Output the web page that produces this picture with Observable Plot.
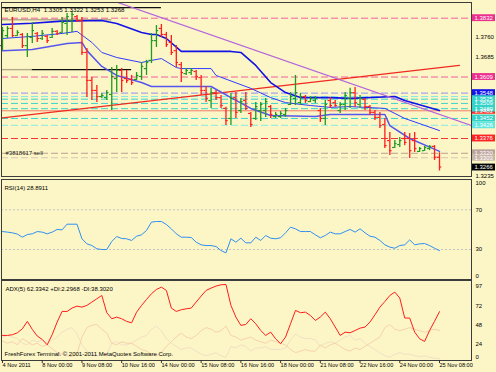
<!DOCTYPE html>
<html><head><meta charset="utf-8">
<script src="https://cdn.jsdelivr.net/npm/d3@7"></script>
<script src="https://cdn.jsdelivr.net/npm/@observablehq/plot@0.6"></script>
<style>
html,body{margin:0;padding:0;background:#fcf6c6;}
#chart{position:relative;width:496px;height:372px;background:#fcf6c6;overflow:hidden;}
#chart svg{position:absolute;left:0;}
</style></head><body><div id="chart"></div>
<script>
// ---------- DATA ----------
const symbol = "EURUSD,H4";
const open = [1.3728,1.3766,1.3793,1.3766,1.3770,1.3728,1.3759,1.3774,1.3755,1.3763,
1.3759,1.3782,1.3778,1.3812,1.3823,1.3838,1.3823,1.3702,1.3596,1.3558,
1.3535,1.3531,1.3543,1.3603,1.3634,1.3603,1.3600,1.3600,1.3611,1.3641,
1.3672,1.3747,1.3793,1.3770,1.3740,1.3709,1.3656,1.3622,1.3626,1.3630,
1.3607,1.3558,1.3520,1.3550,1.3531,1.3490,1.3452,1.3531,1.3482,1.3520,
1.3471,1.3452,1.3482,1.3482,1.3497,1.3459,1.3459,1.3467,1.3505,1.3528,
1.3512,1.3535,1.3516,1.3520,1.3482,1.3452,1.3520,1.3512,1.3482,1.3505,
1.3528,1.3550,1.3505,1.3524,1.3497,1.3475,1.3456,1.3429,1.3368,1.3342,
1.3353,1.3376,1.3376,1.3368,1.3327,1.3330,1.3338,1.3346,1.3305];
const high = [1.3797,1.3800,1.3835,1.3785,1.3774,1.3774,1.3816,1.3778,1.3785,1.3766,
1.3793,1.3785,1.3835,1.3850,1.3857,1.3842,1.3835,1.3717,1.3607,1.3577,
1.3547,1.3558,1.3645,1.3653,1.3641,1.3634,1.3615,1.3626,1.3664,1.3672,
1.3774,1.3804,1.3808,1.3778,1.3766,1.3728,1.3664,1.3641,1.3641,1.3634,
1.3615,1.3573,1.3566,1.3558,1.3539,1.3494,1.3547,1.3550,1.3528,1.3550,
1.3475,1.3512,1.3512,1.3528,1.3501,1.3475,1.3478,1.3490,1.3550,1.3615,
1.3547,1.3539,1.3535,1.3535,1.3490,1.3520,1.3531,1.3520,1.3512,1.3550,
1.3566,1.3569,1.3539,1.3528,1.3501,1.3482,1.3475,1.3452,1.3399,1.3368,
1.3380,1.3399,1.3395,1.3399,1.3342,1.3346,1.3349,1.3349,1.3322];
const low = [1.3709,1.3755,1.3759,1.3763,1.3717,1.3683,1.3736,1.3740,1.3747,1.3736,
1.3755,1.3766,1.3774,1.3766,1.3778,1.3816,1.3691,1.3531,1.3520,1.3512,
1.3528,1.3520,1.3482,1.3550,1.3550,1.3584,1.3577,1.3596,1.3596,1.3615,
1.3660,1.3721,1.3759,1.3721,1.3691,1.3645,1.3588,1.3615,1.3615,1.3596,
1.3539,1.3512,1.3490,1.3520,1.3490,1.3425,1.3425,1.3452,1.3471,1.3482,
1.3418,1.3444,1.3440,1.3456,1.3452,1.3452,1.3452,1.3456,1.3501,1.3501,
1.3501,1.3509,1.3512,1.3509,1.3437,1.3425,1.3490,1.3494,1.3471,1.3482,
1.3490,1.3494,1.3490,1.3482,1.3463,1.3444,1.3414,1.3338,1.3312,1.3338,
1.3342,1.3349,1.3300,1.3323,1.3323,1.3327,1.3330,1.3293,1.3253];
const close = [1.3785,1.3793,1.3766,1.3778,1.3728,1.3763,1.3785,1.3755,1.3774,1.3747,
1.3782,1.3774,1.3816,1.3838,1.3846,1.3823,1.3702,1.3596,1.3558,1.3535,
1.3539,1.3550,1.3611,1.3634,1.3596,1.3596,1.3588,1.3615,1.3649,1.3664,
1.3747,1.3785,1.3770,1.3732,1.3702,1.3664,1.3626,1.3634,1.3634,1.3611,
1.3558,1.3528,1.3550,1.3531,1.3501,1.3444,1.3528,1.3475,1.3516,1.3490,
1.3429,1.3497,1.3505,1.3516,1.3467,1.3467,1.3471,1.3482,1.3535,1.3550,
1.3535,1.3520,1.3528,1.3528,1.3452,1.3505,1.3501,1.3501,1.3505,1.3539,
1.3550,1.3512,1.3528,1.3497,1.3475,1.3456,1.3425,1.3349,1.3330,1.3357,
1.3368,1.3361,1.3330,1.3338,1.3338,1.3342,1.3346,1.3305,1.3268];

// Bollinger-style bands: [bar, price]
const bandUpper = [[0,1.3808],[6,1.3813],[12,1.3821],[20,1.3823],[23,1.3812],[28,1.3778],[30,1.3770],[31,1.3770],[33,1.3755],[36,1.3706],[46,1.3706],[48,1.3702],[51,1.3653],[54,1.3588],[57,1.3550],[60,1.3531],[66,1.3531],[70,1.3528],[79,1.3535],[81,1.3520],[88,1.3482]];
const bandMiddle = [[0,1.3755],[6,1.3763],[12,1.3774],[15,1.3782],[18,1.3740],[20,1.3702],[23,1.3683],[28,1.3664],[30,1.3672],[32,1.3679],[35,1.3645],[36,1.3641],[42,1.3641],[43,1.3615],[50,1.3566],[54,1.3531],[57,1.3512],[62,1.3501],[66,1.3494],[70,1.3497],[77,1.3490],[81,1.3452],[88,1.3406]];
const bandLower = [[0,1.3709],[6,1.3713],[13,1.3736],[16,1.3740],[17,1.3709],[20,1.3649],[23,1.3615],[28,1.3588],[30,1.3573],[42,1.3573],[46,1.3531],[50,1.3490],[54,1.3463],[63,1.3459],[66,1.3467],[77,1.3467],[78,1.3425],[82,1.3376],[88,1.3327]];

// trend lines: [bar, price]
const trendDown = [[12,1.3965],[94.4,1.3425]];
const trendUp = [[0,1.3454],[92,1.3653]];

// horizontal segments
const segStart = [0, 0, 0, 6];
const segEnd   = [32, 22, 6, 26];
const segPrice = [1.3872, 1.3826, 1.3637, 1.3637];
const segKind  = ["black", "khaki", "khaki", "black"];

// horizontal levels
const levelValues = [1.3832, 1.3609, 1.3548, 1.3535, 1.3525, 1.3509, 1.3489, 1.3452, 1.3426, 1.3376, 1.3320, 1.3303];
const levelKinds  = ["pink", "pink", "blue", "cyanLight", "cyan", "cyan", "cyan", "cyan", "cyanLight", "red", "tan", "tanLight"];
const solidLevelValues = [1.3481];

// price axis
const priceTicks = [1.3760, 1.3685, 1.3235];
const tagValues = [1.3832, 1.3609, 1.3548, 1.3481, 1.3525, 1.3509, 1.3489, 1.3452, 1.3426, 1.3376, 1.3320, 1.3303, 1.3266];
const tagKinds  = ["pink", "pink", "blue", "red", "cyan", "cyan", "cyan", "cyan", "cyanLight", "red", "tan", "tanLight", "black"];

// order
const orderTicket = "#3818617";
const orderType = "sell";
const orderPrice = 1.3320;

// RSI(14)
const rsi = [48.1,47.5,46.8,45.5,42.4,45.1,45.8,48.1,47.5,45.8,
47.5,50.2,49.8,55.5,55.5,55.5,40.8,35.7,34.0,30.7,
30.0,30.0,38.1,43.1,41.1,40.8,39.1,43.4,44.8,49.2,
57.6,58.2,58.2,55.2,50.8,45.8,42.4,42.4,42.1,37.4,
34.7,34.0,34.0,33.0,29.0,26.6,40.8,37.4,41.4,36.7,
36.7,42.4,39.1,44.1,41.4,40.8,41.8,46.8,52.5,50.8,
48.1,48.1,48.1,44.8,41.8,44.1,47.5,45.8,45.8,48.1,
50.2,47.5,50.8,46.8,43.4,42.4,39.1,34.7,32.4,31.3,
34.0,34.7,39.7,34.7,35.7,36.0,34.0,31.3,28.8911];
const rsiLevels = [70, 30];
const rsiTicksMid = [70, 30];

// ADX(5), +DI, -DI
const adx = [32.0,32.0,32.9,35.4,40.5,49.9,39.7,31.2,26.9,20.0,
32.9,49.0,62.6,62.6,66.9,69.4,68.1,70.3,74.6,78.8,
83.0,61.0,53.3,55.4,53.3,49.9,48.1,61.7,70.3,77.9,
85.2,90.7,93.6,89.4,66.9,62.6,64.8,66.0,66.9,74.6,
82.2,89.4,92.4,95.0,96.6,97.0,70.3,55.4,44.8,46.0,
53.3,46.9,38.3,32.0,36.2,27.7,21.4,29.9,46.9,63.9,
61.0,61.7,57.5,51.1,55.4,61.7,53.3,42.7,32.0,36.2,
35.4,38.3,41.3,42.7,49.0,58.4,68.1,75.3,83.0,87.3,
79.7,54.2,54.2,36.2,27.7,24.3,38.3,50.0,62.3342];
const minusDI = [25,22,24,20,28,24,20,22,18,20,15,
10,8,6,5,8,
30,42,45,46,40,35,
22,20,24,22,22,18,14,12,
8,6,10,
18,24,30,35,30,28,32,38,42,40,36,38,44,
32,30,26,28,30,26,24,22,26,24,22,20,
14,10,12,14,12,12,20,16,
20,22,18,14,12,16,14,18,22,26,
30,42,46,40,38,40,42,40,38,36,38,40,38.302];
const plusDI = [30,32,30,28,22,20,26,24,26,22,26,
30,36,40,42,34,
20,12,8,6,8,8,
22,24,20,20,22,26,30,32,
40,44,38,
28,22,18,14,16,16,12,8,6,8,10,6,4,
18,16,20,18,12,16,16,18,14,14,14,16,
26,34,30,28,28,26,18,22,
24,22,26,30,32,26,28,22,18,14,
10,6,4,8,10,8,8,6,5,6,4,3,2.2968];
const adxTicks = [97, 72, 48, 24];

// time axis
const timeLabels = ["4 Nov 2011","8 Nov 00:00","9 Nov 08:00","10 Nov 16:00","14 Nov 00:00","15 Nov 08:00","16 Nov 16:00","18 Nov 00:00","21 Nov 08:00","22 Nov 16:00","24 Nov 00:00","25 Nov 08:00"];
const timeBars = [0,8,16,24,32,40,48,56,64,72,80,88];
const footer = "FreshForex Terminal. \u00a9 2001-2011 MetaQuotes Software Corp.";

// ---------- RENDER ----------
const W = 496;
const FONT = "'Liberation Sans', Arial, sans-serif";
const xScale = {type: "linear", domain: [-0.403, 99.477], range: [0, W], axis: null};
const lineColor = {pink:"#f0609c", blue:"#9090f4", cyan:"#3cd4cc", cyanLight:"#84ebe5", red:"#f23434", tan:"#b99f90", tanLight:"#d9c6b2", salmon:"#ef7d6c", black:"#111111", khaki:"#b4a88c"};
const tagColor = {pink:"#ec2f8e", blue:"#1414e8", cyan:"#35d2ca", cyanLight:"#62e6e0", red:"#ff2222", tan:"#bba39b", tanLight:"#c9b5aa", black:"#000000"};
const UP = "#1f9a1f", DOWN = "#ff1c1c";
const frameStroke = "#3c3c3c";
const styleBase = {background: "transparent", fontFamily: FONT, fontSize: "6px", color: "#000"};

const n = open.length;
const bars = d3.range(n).map(i => ({i, o: open[i], h: high[i], l: low[i], c: close[i], up: close[i] >= open[i]}));
const levels = levelValues.map((v, k) => ({v, kind: levelKinds[k]}));
const tags = tagValues.map((v, k) => ({v, kind: tagKinds[k]}));
const segs = segStart.map((s, k) => ({s, e: segEnd[k], p: segPrice[k], kind: segKind[k]}));
const fmt = v => v.toFixed(4);
const header = `${symbol}  ${fmt(open[n-1])} ${fmt(high[n-1])} ${fmt(low[n-1])} ${fmt(close[n-1])}`;

const main = Plot.plot({
  width: W, height: 178, marginLeft: 1, marginRight: 25, marginTop: 2, marginBottom: 2,
  x: xScale, y: {domain: [1.3232, 1.38914], range: [176, 2], axis: null},
  color: {type: "identity"},
  style: styleBase,
  marks: [
    Plot.ruleY(levels, {y: "v", stroke: d => lineColor[d.kind], strokeWidth: 1, strokeDasharray: "7,3"}),
    Plot.ruleY(solidLevelValues, {y: d => d, stroke: lineColor.salmon, strokeWidth: 1}),
    Plot.ruleY(segs, {y: "p", x1: "s", x2: "e", stroke: d => lineColor[d.kind], strokeWidth: 1.4}),
    Plot.line(trendUp, {x: d => d[0], y: d => d[1], stroke: "#f02a20", strokeWidth: 1.4, clip: true}),
    Plot.line(bandLower, {x: d => d[0], y: d => d[1], stroke: "#5656ee", strokeWidth: 1.5, clip: true}),
    Plot.line(bandMiddle, {x: d => d[0], y: d => d[1], stroke: "#2e3cff", strokeWidth: 1, clip: true}),
    Plot.line(bandUpper, {x: d => d[0], y: d => d[1], stroke: "#1212e6", strokeWidth: 1.6, clip: true}),
    Plot.line(trendDown, {x: d => d[0], y: d => d[1], stroke: "#b463dc", strokeWidth: 1.2, clip: true}),
    Plot.ruleX(bars, {x: "i", y1: "l", y2: "h", stroke: d => d.up ? UP : DOWN, strokeWidth: 1.3}),
    Plot.ruleY(bars, {y: "o", x1: d => d.i - 0.45, x2: "i", stroke: d => d.up ? UP : DOWN, strokeWidth: 1.2}),
    Plot.ruleY(bars, {y: "c", x1: "i", x2: d => d.i + 0.45, stroke: d => d.up ? UP : DOWN, strokeWidth: 1.2}),
    Plot.text([header], {frameAnchor: "top-left", dx: 3, dy: 5, textAnchor: "start", fontSize: 6.2, fill: "#000"}),
    Plot.text([`${orderTicket} ${orderType}`], {y: () => orderPrice, frameAnchor: "left", dx: 4, textAnchor: "start", fontSize: 6, fill: "#222"}),
    Plot.frame({stroke: frameStroke}),
    Plot.text(priceTicks, {y: d => d, text: fmt, frameAnchor: "right", dx: 4, textAnchor: "start", fill: "#000", fontSize: 6}),
    Plot.rect(tags, {y1: d => d.v - 0.0013, y2: d => d.v + 0.0013, fill: d => tagColor[d.kind], insetLeft: 447, dx: 24}),
    Plot.text(tags, {y: "v", text: d => fmt(d.v), frameAnchor: "right", dx: 3, textAnchor: "start", fill: "#fff", fontSize: 6})
  ]
});
main.style.top = "0px";

const rsiPlot = Plot.plot({
  width: W, height: 104, marginLeft: 1, marginRight: 25, marginTop: 2, marginBottom: 2,
  x: xScale, y: {domain: [0, 100], range: [101.8, 2.5], axis: null},
  style: styleBase,
  marks: [
    Plot.ruleY(rsiLevels, {y: d => d, stroke: "#c4c4c4", strokeDasharray: "2,2"}),
    Plot.line(rsi, {x: (d, i) => i, y: d => d, stroke: "#2f8ff2", strokeWidth: 1}),
    Plot.frame({stroke: frameStroke}),
    Plot.text([`RSI(14) ${rsi[n-1].toFixed(4)}`], {frameAnchor: "top-left", dx: 3, dy: 6, textAnchor: "start", fontSize: 6, fill: "#000"}),
    Plot.text(rsiTicksMid, {y: d => d, frameAnchor: "right", dx: 4, textAnchor: "start", fontSize: 6, fill: "#000"}),
    Plot.text([100], {y: d => d, frameAnchor: "right", dx: 4, dy: 3.5, textAnchor: "start", fontSize: 6, fill: "#000"}),
    Plot.text([0], {y: d => d, frameAnchor: "right", dx: 4, dy: -3.5, textAnchor: "start", fontSize: 6, fill: "#000"})
  ]
});
rsiPlot.style.top = "177px";

const adxPlot = Plot.plot({
  width: W, height: 93, marginLeft: 1, marginRight: 25, marginTop: 1, marginBottom: 12,
  x: xScale, y: {domain: [0, 102.1], range: [81, 1], axis: null},
  style: styleBase,
  marks: [
    Plot.line(plusDI, {x: (d, i) => i, y: d => d, stroke: "#eedcc4", strokeWidth: 0.9}),
    Plot.line(minusDI, {x: (d, i) => i, y: d => d, stroke: "#f6cda8", strokeWidth: 0.9}),
    Plot.line(adx, {x: (d, i) => i, y: d => d, stroke: "#ff1c1c", strokeWidth: 1}),
    Plot.frame({stroke: frameStroke}),
    Plot.text([`ADX(5) ${adx[n-1].toFixed(4)} +DI:${plusDI[n-1].toFixed(4)} -DI:${minusDI[n-1].toFixed(4)}`], {frameAnchor: "top-left", dx: 4, dy: 6, textAnchor: "start", fontSize: 6, fill: "#000"}),
    Plot.text([footer], {frameAnchor: "bottom-left", dx: 3, dy: -5, textAnchor: "start", fontSize: 6, fill: "#000"}),
    Plot.text(adxTicks, {y: d => d, frameAnchor: "right", dx: 4, dy: 2, textAnchor: "start", fontSize: 6, fill: "#000"}),
    Plot.text([0], {y: d => d, frameAnchor: "right", dx: 4, dy: -3, textAnchor: "start", fontSize: 6, fill: "#000"}),
    Plot.ruleX(timeBars, {x: d => d, insetTop: 77, dy: 3, stroke: "#333"}),
    Plot.text(timeLabels, {x: (d, i) => timeBars[i], frameAnchor: "bottom", dy: 6, textAnchor: "start", fontSize: 5.6, fill: "#000"})
  ]
});
adxPlot.style.top = "279px";

const chart = document.getElementById("chart");
chart.append(main, rsiPlot, adxPlot);
</script>
</body></html>
